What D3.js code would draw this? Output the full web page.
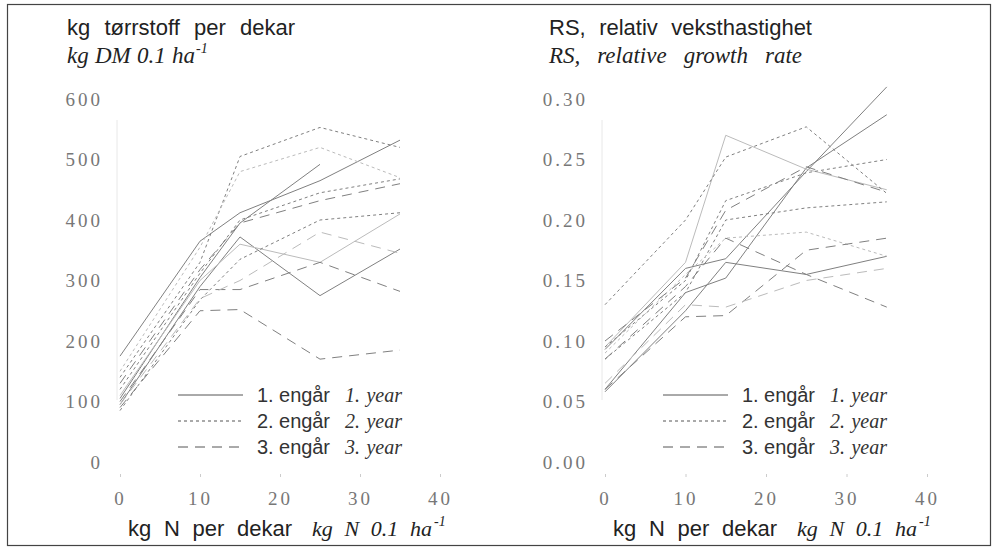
<!DOCTYPE html>
<html><head><meta charset="utf-8">
<script src="https://cdn.jsdelivr.net/npm/d3@7"></script>
<style>
body{margin:0;background:#fff;}
svg{display:block;}
</style></head>
<body>
<svg id="c" width="994" height="548"></svg>
<script>
// ---- data ----
const nLevels = [0, 10, 15, 25, 35];
const dmTicks = [0, 100, 200, 300, 400, 500, 600];
const rsTicks = [0, 0.05, 0.10, 0.15, 0.20, 0.25, 0.30];
const xTicks = [0, 10, 20, 30, 40];
const years = ["1", "2", "3"];

// kg DM per dekar, per year, several trials
const dmYear1 = [
  [175, 365, 412, 465, 532],
  [105, 305, 395, 492, null],
  [95, 290, 372, 275, 352],
  [110, 300, 360, 330, 410]
];
const dmYear2 = [
  [140, 330, 505, 553, 520],
  [120, 312, 400, 445, 468],
  [85, 268, 335, 400, 412],
  [150, 355, 480, 520, 470]
];
const dmYear3 = [
  [130, 318, 395, 432, 460],
  [100, 285, 285, 330, 282],
  [90, 250, 252, 170, 185],
  [95, 270, 300, 380, 345]
];
// RS, relative growth rate
const rsYear1 = [
  [0.093, 0.160, 0.168, 0.240, 0.310],
  [0.060, 0.140, 0.152, 0.243, 0.287],
  [0.058, 0.125, 0.165, 0.155, 0.170],
  [0.095, 0.165, 0.270, 0.242, 0.225]
];
const rsYear2 = [
  [0.130, 0.200, 0.252, 0.277, 0.222],
  [0.095, 0.150, 0.216, 0.239, 0.250],
  [0.085, 0.140, 0.200, 0.210, 0.215],
  [0.090, 0.155, 0.185, 0.190, 0.170]
];
const rsYear3 = [
  [0.100, 0.152, 0.208, 0.244, 0.223],
  [0.085, 0.145, 0.185, 0.155, 0.128],
  [0.060, 0.120, 0.121, 0.175, 0.185],
  [0.065, 0.130, 0.128, 0.150, 0.160]
];

const dashes = {"1": null, "2": "3,3", "3": "10,7"};
const svg = d3.select("#c");

svg.append("rect").attr("x", 7.5).attr("y", 4.5).attr("width", 983).attr("height", 541)
  .attr("fill", "none").attr("stroke", "#444").attr("stroke-width", 1.2);

// text fitted to a target width by widening the word gaps (letter-spacing if no gaps)
function txt(g, x, y, s, len, opts) {
  const t = g.append("text").attr("x", x).attr("y", y).attr("fill", opts.fill || "#222")
    .attr("font-family", opts.family).attr("font-size", opts.size).text(s);
  if (opts.italic) t.attr("font-style", "italic");
  if (len) {
    const nat = t.node().getComputedTextLength();
    const gaps = (s.match(/ /g) || []).length;
    if (gaps > 0 && len > nat) t.attr("word-spacing", (len - nat) / gaps);
    else t.attr("textLength", len).attr("lengthAdjust", "spacing");
  }
  return t;
}

function panel(opt) {
  const x = d3.scaleLinear().domain([0, 40]).range(opt.xr);
  const y = d3.scaleLinear().domain([0, opt.ymax]).range([462, 99]);
  const g = svg.append("g");

  // faint y axis line
  g.append("line").attr("x1", opt.xr[0] - 3).attr("x2", opt.xr[0] - 3)
    .attr("y1", 120).attr("y2", 400).attr("stroke", "#e8e8e8");

  // y axis tick labels
  const ya = g.append("g").attr("transform", `translate(${opt.xr[0] - 3},0)`)
    .call(d3.axisLeft(y).tickValues(opt.yTicks).tickSize(0).tickPadding(opt.yPad).tickFormat(opt.fmt));
  ya.select(".domain").remove();
  ya.selectAll("text").attr("font-family", "Liberation Serif").attr("font-size", 19)
    .attr("letter-spacing", "3px").attr("fill", "#777");

  // x axis
  const xa = g.append("g").attr("transform", "translate(0,474)")
    .call(d3.axisBottom(x).tickValues(xTicks).tickSize(3).tickPadding(15));
  xa.select(".domain").remove();
  xa.selectAll("line").attr("stroke", "#ccc");
  xa.selectAll("text").attr("font-family", "Liberation Serif").attr("font-size", 19)
    .attr("letter-spacing", "3px").attr("fill", "#777");

  // lines
  const line = d3.line().defined(d => d[1] != null).x(d => x(d[0])).y(d => y(d[1]));
  opt.series.forEach((set, i) => {
    set.forEach((vals, j) => {
      g.append("path").datum(nLevels.map((n, k) => [n, vals[k]]))
        .attr("d", line).attr("fill", "none").attr("stroke", j === 3 ? "#bbb" : "#808080")
        .attr("stroke-width", 1).attr("stroke-dasharray", dashes[years[i]]);
    });
  });

  // titles
  txt(g, opt.tx, 35, opt.t1, opt.t1len, {family: "Liberation Sans", size: 22});
  txt(g, opt.tx, 63, opt.t2, opt.t2len, {family: "Liberation Serif", size: 23, italic: true});
  if (opt.sup) txt(g, opt.tx + opt.t2len + 1, 53, opt.sup, null, {family: "Liberation Serif", size: 14, italic: true});

  // x axis title
  const x0 = opt.xr[0];
  txt(g, x0 + 8, 536, "kg N per dekar", 164, {family: "Liberation Sans", size: 22});
  txt(g, x0 + 192, 536, "kg N 0.1 ha", 120, {family: "Liberation Serif", size: 22, italic: true});
  txt(g, x0 + 314, 526, "-1", null, {family: "Liberation Serif", size: 14, italic: true});

  // legend
  const lx = x0 + 58;
  years.forEach((yr, i) => {
    const ly = 395 + i * 26;
    g.append("line").attr("x1", lx).attr("x2", lx + 65).attr("y1", ly).attr("y2", ly)
      .attr("stroke", "#555").attr("stroke-width", 1).attr("stroke-dasharray", dashes[yr]);
    txt(g, lx + 79, ly + 7, yr + ". engår", 73, {family: "Liberation Sans", size: 20, fill: "#333"});
    txt(g, lx + 167, ly + 7, yr + ". year", 57, {family: "Liberation Serif", size: 20, italic: true, fill: "#333"});
  });
}

panel({xr: [120, 440], ymax: 600, yTicks: dmTicks, fmt: d3.format("d"), yPad: 14,
  series: [dmYear1, dmYear2, dmYear3], tx: 67,
  t1: "kg tørrstoff per dekar", t1len: 228, t2: "kg DM 0.1 ha", t2len: 128, sup: "-1"});
panel({xr: [605, 927], ymax: 0.30, yTicks: rsTicks, fmt: d3.format(".2f"), yPad: 14,
  series: [rsYear1, rsYear2, rsYear3], tx: 549,
  t1: "RS, relativ veksthastighet", t1len: 263, t2: "RS, relative growth rate", t2len: 253, sup: null});
</script>
</body></html>
